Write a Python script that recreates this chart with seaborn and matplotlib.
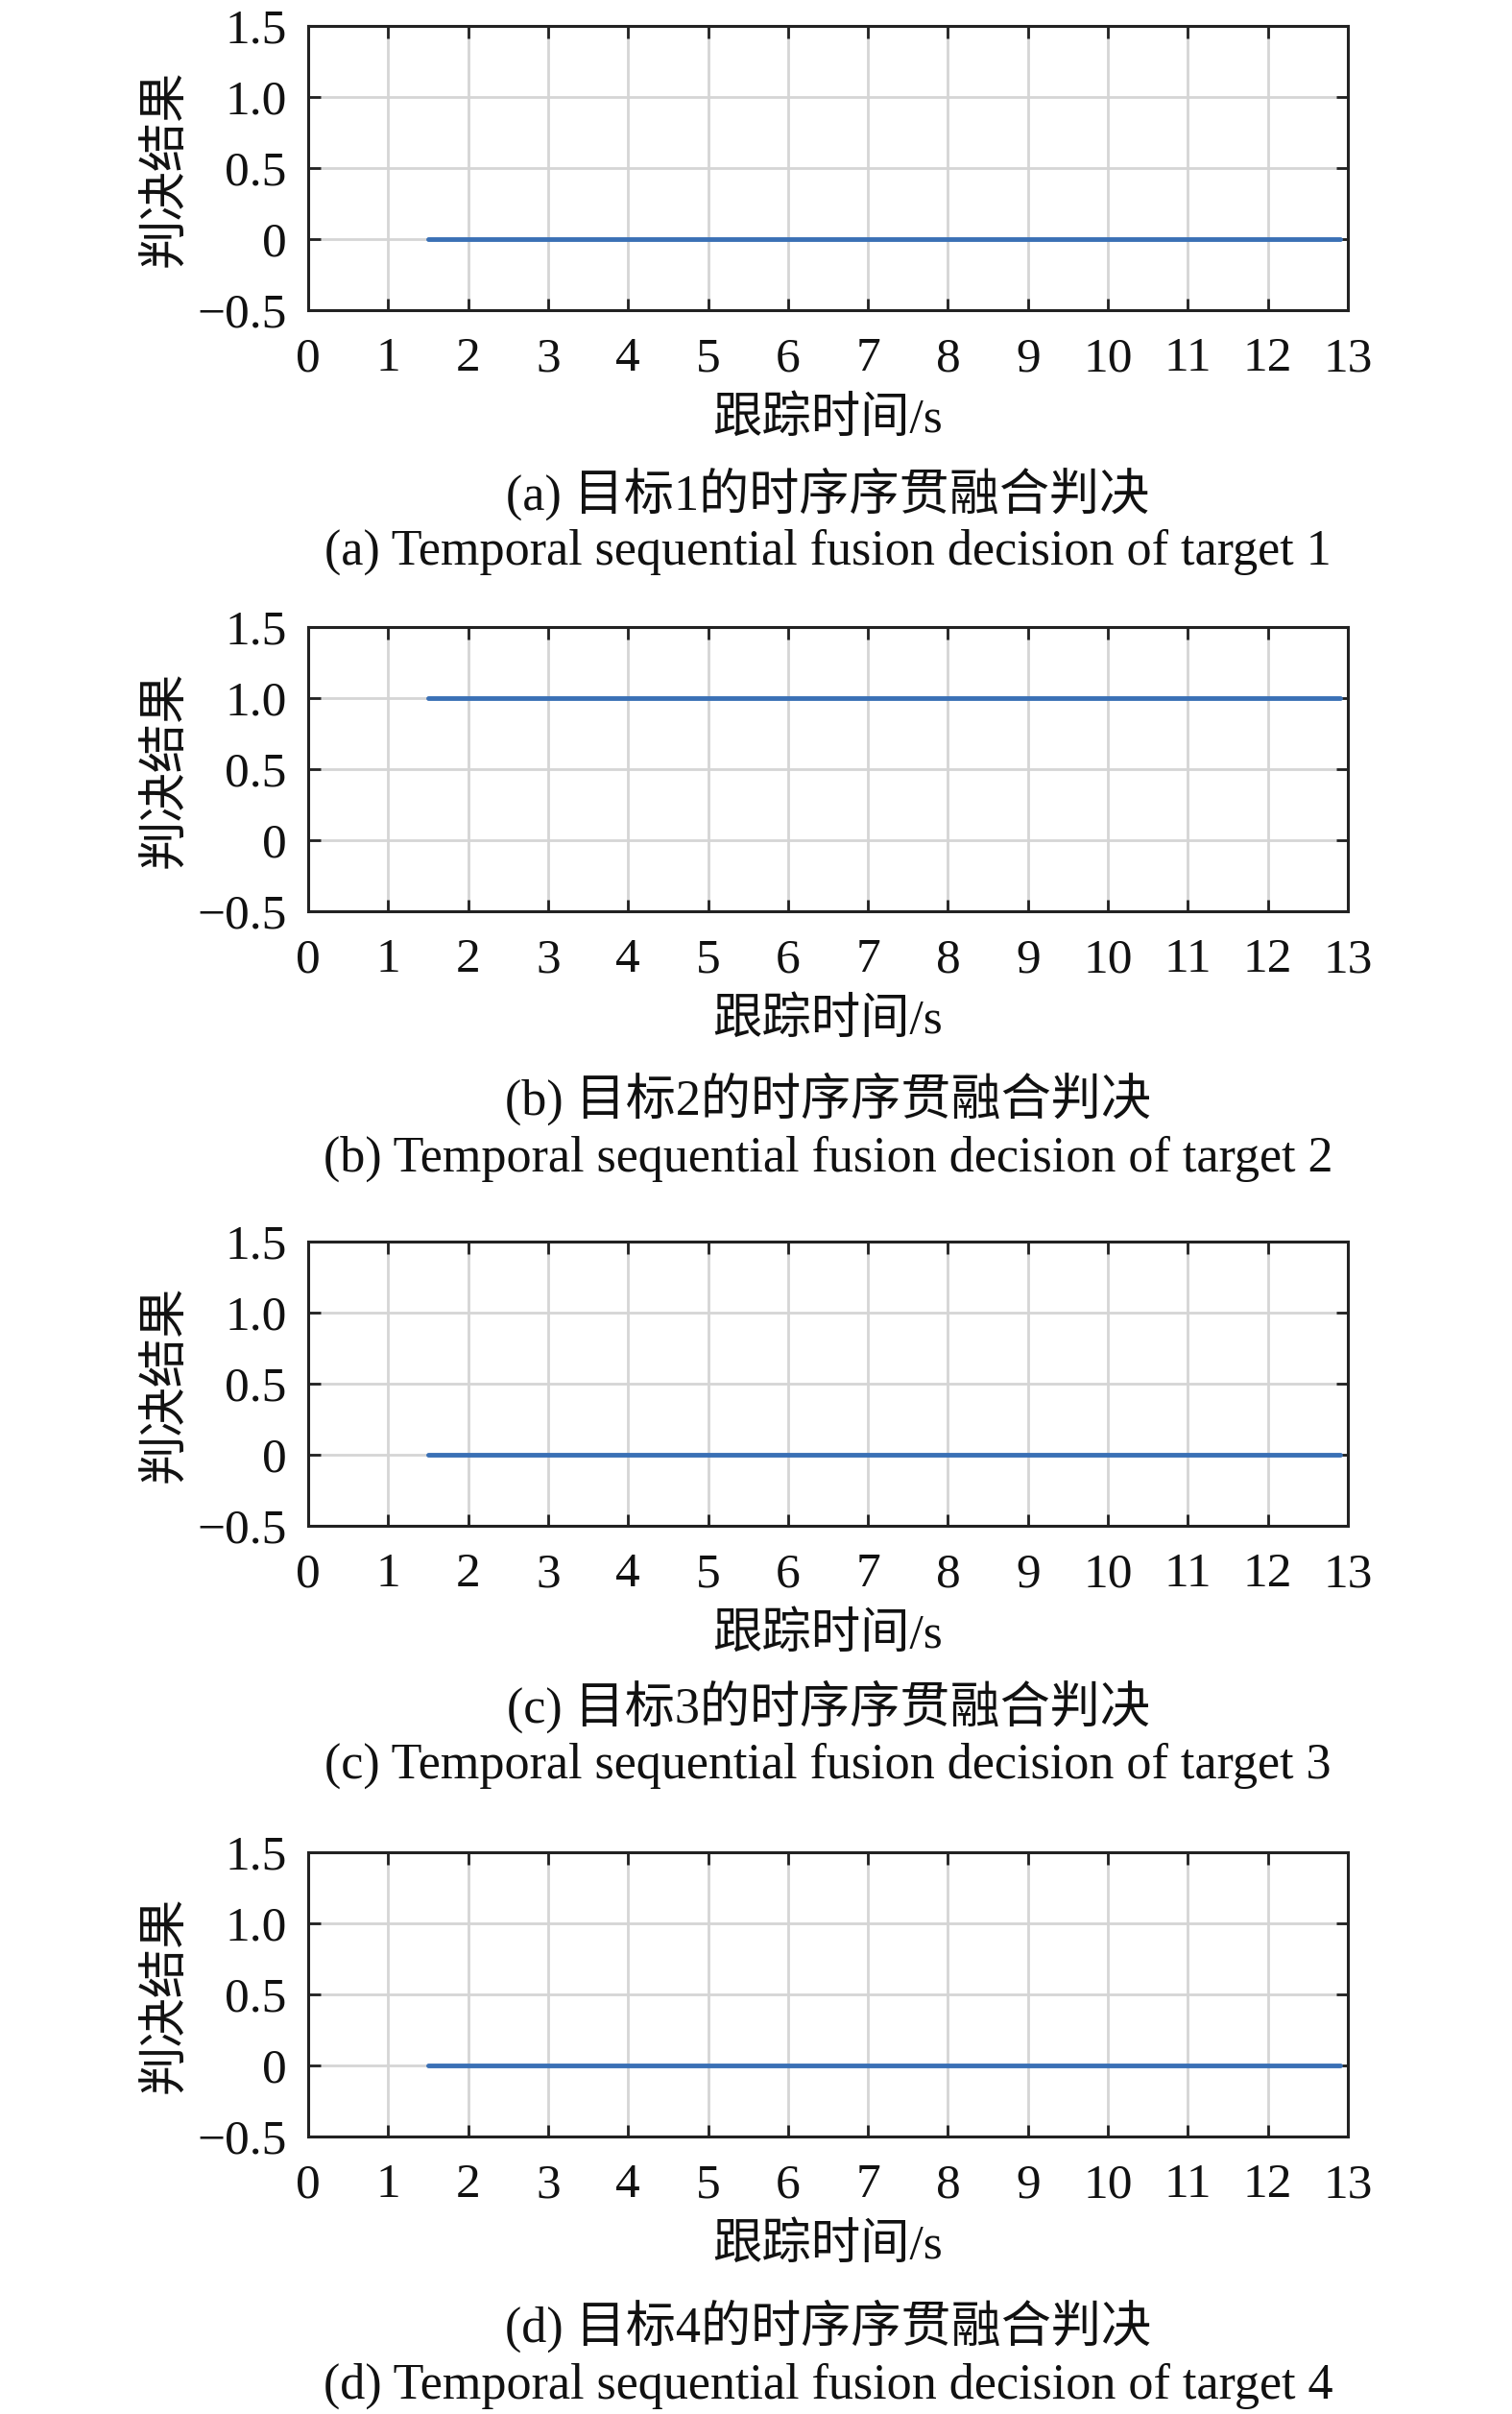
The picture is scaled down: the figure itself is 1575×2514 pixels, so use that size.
import numpy as np
import pandas as pd
import matplotlib
matplotlib.use('Agg')
import matplotlib.pyplot as plt
import seaborn as sns

# decision output over tracking time, one series per target
time_s = [1.5, 2, 3, 4, 5, 6, 7, 8, 9, 10, 11, 12, 12.9]
decision_t1 = [0, 0, 0, 0, 0, 0, 0, 0, 0, 0, 0, 0, 0]
decision_t2 = [1, 1, 1, 1, 1, 1, 1, 1, 1, 1, 1, 1, 1]
decision_t3 = [0, 0, 0, 0, 0, 0, 0, 0, 0, 0, 0, 0, 0]
decision_t4 = [0, 0, 0, 0, 0, 0, 0, 0, 0, 0, 0, 0, 0]

x_ticks = [0, 1, 2, 3, 4, 5, 6, 7, 8, 9, 10, 11, 12, 13]
y_ticks = [-0.5, 0, 0.5, 1.0, 1.5]
y_tick_labels = ['\u22120.5', '0', '0.5', '1.0', '1.5']

captions_cn = ['(a) 目标1的时序序贯融合判决', '(b) 目标2的时序序贯融合判决',
               '(c) 目标3的时序序贯融合判决', '(d) 目标4的时序序贯融合判决']
captions_en = ['(a) Temporal sequential fusion decision of target 1',
               '(b) Temporal sequential fusion decision of target 2',
               '(c) Temporal sequential fusion decision of target 3',
               '(d) Temporal sequential fusion decision of target 4']

series = [decision_t1, decision_t2, decision_t3, decision_t4]

sns.set_style('ticks')
plt.rcParams['font.family'] = ['Liberation Serif', 'Noto Sans CJK SC']
plt.rcParams['axes.unicode_minus'] = True

W, H = 1575, 2514
fig = plt.figure(figsize=(W / 100, H / 100), dpi=100)

FS = 37
FS_CAP = 37.5
line_color = '#3a70b5'
ax_left, ax_right = 321, 1404
ax_h = 296
ax_bottoms = [323, 949, 1589, 2225]   # pixel rows (from top) of the bottom spines
cap_off = [(191, 252), (195, 258), (188, 250), (197, 260)]

for i, (vals, bot) in enumerate(zip(series, ax_bottoms)):
    ax = fig.add_axes([ax_left / W, 1 - bot / H, (ax_right - ax_left) / W, ax_h / H])
    df = pd.DataFrame({'time': time_s, 'decision': vals})
    sns.lineplot(data=df, x='time', y='decision', ax=ax, color=line_color,
                 linewidth=3.5, zorder=3)
    ax.set_xlim(0, 13)
    ax.set_ylim(-0.5, 1.5)
    ax.set_xticks(x_ticks)
    ax.set_xticklabels([str(t) for t in x_ticks])
    ax.set_yticks(y_ticks)
    ax.set_yticklabels(y_tick_labels)
    ax.grid(True, color='#d5d5d5', linewidth=2, zorder=0)
    ax.tick_params(direction='in', length=9, width=2, labelsize=FS,
                   top=True, right=True, colors='#222222', labelcolor='#111111')
    ax.tick_params(axis='x', pad=20)
    ax.tick_params(axis='y', pad=16)
    for sp in ax.spines.values():
        sp.set_linewidth(2.2)
        sp.set_color('#222222')
    ax.set_xlabel('')
    ax.set_ylabel('')

    cx = (ax_left + ax_right) / 2 / W
    fig.text(173 / W, 1 - (bot - ax_h / 2) / H, '判决结果', rotation=90,
             ha='center', va='center', fontsize=FS, color='#111111')
    fig.text(cx, 1 - (bot + 114) / H, '跟踪时间/s', ha='center', va='center',
             fontsize=FS, color='#111111')
    fig.text(cx, 1 - (bot + cap_off[i][0]) / H, captions_cn[i], ha='center',
             va='center', fontsize=FS_CAP, color='#111111')
    fig.text(cx, 1 - (bot + cap_off[i][1]) / H, captions_en[i], ha='center',
             va='center', fontsize=FS_CAP, color='#111111')

fig.savefig('out.png', dpi=100)
